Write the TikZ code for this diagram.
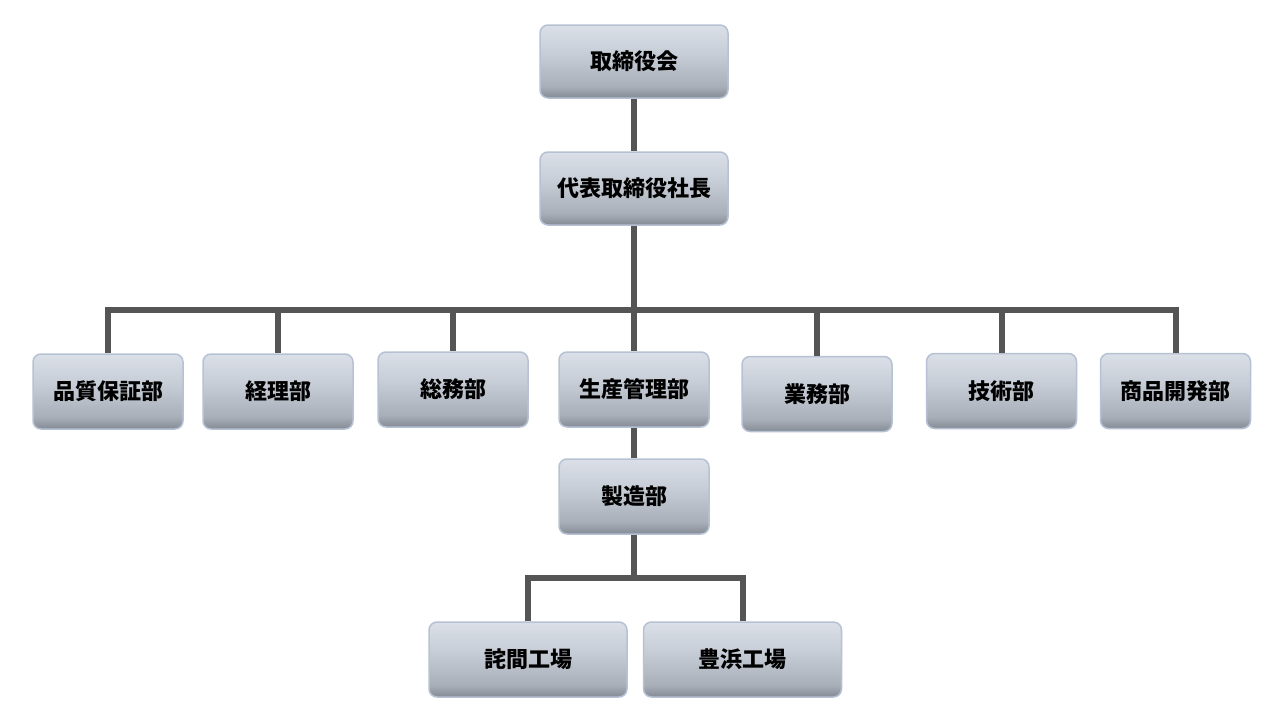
\documentclass[tikz,border=0pt]{standalone}
\usepackage{fontspec}
\setmainfont{Noto Sans CJK JP}
\usetikzlibrary{calc}
\definecolor{btop}{HTML}{DADFE8}
\definecolor{bmid}{HTML}{C7CDD6}
\definecolor{blow}{HTML}{A9AFB8}
\definecolor{bbot}{HTML}{858B95}
\definecolor{bedge}{HTML}{B6C2D4}
\definecolor{conncol}{HTML}{555555}
\pgfdeclareverticalshading{boxshade}{100bp}{color(0bp)=(bbot); color(25bp)=(bbot); color(33bp)=(blow); color(55bp)=(bmid); color(75bp)=(btop); color(100bp)=(btop)}
\tikzset{
  orgbox/.style={draw=bedge, line width=1.5pt, rounded corners=8pt, shading=boxshade,
    minimum width=150pt, minimum height=75pt, inner sep=0pt,
    font=\fontsize{22pt}{26pt}\selectfont\bfseries, text=black},
  widebox/.style={orgbox, minimum width=188pt, minimum height=73pt},
  plantbox/.style={orgbox, minimum width=198pt, minimum height=75pt},
  conn/.style={draw=conncol, line width=6pt, line join=miter}
}
\begin{document}
\begin{tikzpicture}[x=1pt,y=-1pt]
\useasboundingbox (0,0) rectangle (1280,720);
\fill[white] (0,0) rectangle (1280,720);
\coordinate (bar) at (634,310);
\coordinate (bar2) at (634,578);
\node[widebox] (board) at (634,61.5) {取締役会};
\node[widebox] (ceo) at (634,188.5) {代表取締役社長};
\node[orgbox] (qa) at (108,391.5) {品質保証部};
\node[orgbox] (acc) at (278,391.5) {経理部};
\node[orgbox] (ga) at (453,389.5) {総務部};
\node[orgbox] (pm) at (634,389.5) {生産管理部};
\node[orgbox] (ops) at (817,394) {業務部};
\node[orgbox] (tech) at (1001.5,391) {技術部};
\node[orgbox] (pd) at (1175.5,391) {商品開発部};
\node[orgbox] (mfg) at (634,496.5) {製造部};
\node[plantbox] (tak) at (528,659.5) {詫間工場};
\node[plantbox] (toy) at (742.5,659.5) {豊浜工場};
\draw[conn] (board.south) -- (ceo.north);
\draw[conn] (ceo.south) -- (bar);
\foreach \n in {qa,acc,ga,pm,ops,tech,pd}{
  \draw[conn] (bar) -| (\n.north);
}
\draw[conn] (pm.south) -- (mfg.north);
\draw[conn] (mfg.south) -- (bar2);
\draw[conn] (bar2) -| (tak.north);
\draw[conn] (bar2) -| (toy.north);
\end{tikzpicture}
\end{document}
